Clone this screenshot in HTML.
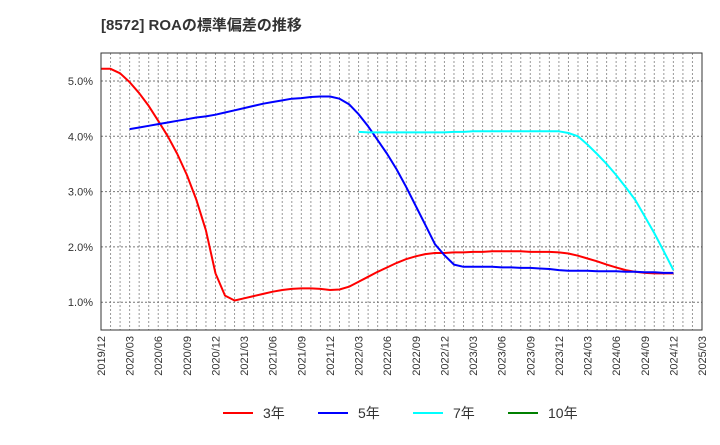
<!DOCTYPE html>
<html><head><meta charset="utf-8"><style>
body{margin:0;background:#fff;font-family:"Liberation Sans","Noto Sans CJK JP",sans-serif;}
</style></head><body>
<svg id="c" width="720" height="440" xmlns="http://www.w3.org/2000/svg">
<text x="101" y="30" font-size="15" font-weight="bold" fill="#333" font-family="Liberation Sans, Noto Sans CJK JP, sans-serif">[8572]  ROAの標準偏差の推移</text>
<g id="grid"></g><g id="lines"></g><g id="axes"></g>
<g font-size="14" fill="#333" font-family="Liberation Sans, Noto Sans CJK JP, sans-serif">
<line x1="223" y1="413" x2="253" y2="413" stroke="#ff0000" stroke-width="2"/><text x="263" y="418">3年</text>
<line x1="318" y1="413" x2="348" y2="413" stroke="#0000ff" stroke-width="2"/><text x="358" y="418">5年</text>
<line x1="413" y1="413" x2="443" y2="413" stroke="#00ffff" stroke-width="2"/><text x="453" y="418">7年</text>
<line x1="508" y1="413" x2="538" y2="413" stroke="#008000" stroke-width="2"/><text x="548" y="418">10年</text>
</g>
</svg>
<script>
const xLabels=["2019/12","2020/03","2020/06","2020/09","2020/12","2021/03","2021/06","2021/09","2021/12","2022/03","2022/06","2022/09","2022/12","2023/03","2023/06","2023/09","2023/12","2024/03","2024/06","2024/09","2024/12","2025/03"];
const yTicks=[1,2,3,4,5];
const s3=[5.22,5.22,5.14,4.98,4.78,4.55,4.28,4.0,3.68,3.3,2.85,2.3,1.52,1.12,1.03,1.07,1.11,1.15,1.19,1.22,1.24,1.25,1.25,1.24,1.22,1.23,1.28,1.37,1.46,1.55,1.63,1.71,1.78,1.83,1.87,1.89,1.89,1.9,1.9,1.91,1.91,1.92,1.92,1.92,1.92,1.91,1.91,1.91,1.9,1.88,1.84,1.79,1.74,1.68,1.63,1.58,1.55,1.53,1.52,1.52,1.52];
const s5=[null,null,null,4.13,4.16,4.19,4.22,4.25,4.28,4.31,4.34,4.36,4.39,4.43,4.47,4.51,4.55,4.59,4.62,4.65,4.68,4.69,4.71,4.72,4.72,4.68,4.58,4.4,4.18,3.93,3.68,3.4,3.08,2.74,2.4,2.05,1.85,1.68,1.64,1.64,1.64,1.64,1.63,1.63,1.62,1.62,1.61,1.6,1.58,1.57,1.57,1.57,1.56,1.56,1.56,1.55,1.55,1.54,1.54,1.53,1.53];
const s7=[null,null,null,null,null,null,null,null,null,null,null,null,null,null,null,null,null,null,null,null,null,null,null,null,null,null,null,4.08,4.07,4.07,4.07,4.07,4.07,4.07,4.07,4.07,4.07,4.08,4.08,4.09,4.09,4.09,4.09,4.09,4.09,4.09,4.09,4.09,4.09,4.06,4.0,3.85,3.68,3.5,3.3,3.08,2.85,2.55,2.25,1.92,1.58];
const s10=[];
const X0=101,X1=702,Y0=53,Y1=330,NM=63;
const xs=i=>X0+(X1-X0)*i/NM;
const ys=v=>81+(5-v)*55.3;
const NS="http://www.w3.org/2000/svg";
function mk(p,t,a){const e=document.createElementNS(NS,t);for(const k in a)e.setAttribute(k,a[k]);p.appendChild(e);return e;}
const grid=document.getElementById('grid'),axes=document.getElementById('axes'),lines=document.getElementById('lines');
for(let i=1;i<NM;i++){const l=mk(grid,'line',{x1:xs(i),x2:xs(i),y1:Y0,y2:Y1,stroke:'#999','stroke-dasharray':'2,2','stroke-width':1});

}
yTicks.forEach(v=>{const l=mk(grid,'line',{x1:X0,x2:X1,y1:ys(v),y2:ys(v),stroke:'#777','stroke-dasharray':'2,2','stroke-width':1});


const t=mk(axes,'text',{x:X0-8,y:ys(v)+4,'text-anchor':'end','font-size':11,fill:'#333'});t.textContent=v.toFixed(1)+'%';

});
const fr=mk(axes,'rect',{x:X0,y:Y0,width:X1-X0,height:Y1-Y0,fill:'none',stroke:'#333','stroke-width':1});


xLabels.forEach((s,i)=>{const x=xs(i*3);const t=mk(axes,'text',{x:0,y:0,transform:`translate(${x+4},${Y1+6}) rotate(-90)`,'text-anchor':'end','font-size':11,fill:'#333'});t.textContent=s;

});
function series(d,c,n){let p='';d.forEach((v,i)=>{if(v==null)return;p+=(p?'L':'M')+xs(i).toFixed(1)+','+ys(v).toFixed(1);});
if(!p)return;const e=mk(lines,'path',{d:p,fill:'none',stroke:c,'stroke-width':2,'stroke-linejoin':'round'});

}
series(s3,'#ff0000','line-3y');series(s5,'#0000ff','line-5y');series(s7,'#00ffff','line-7y');series(s10,'#008000','line-10y');
</script>
</body></html>
